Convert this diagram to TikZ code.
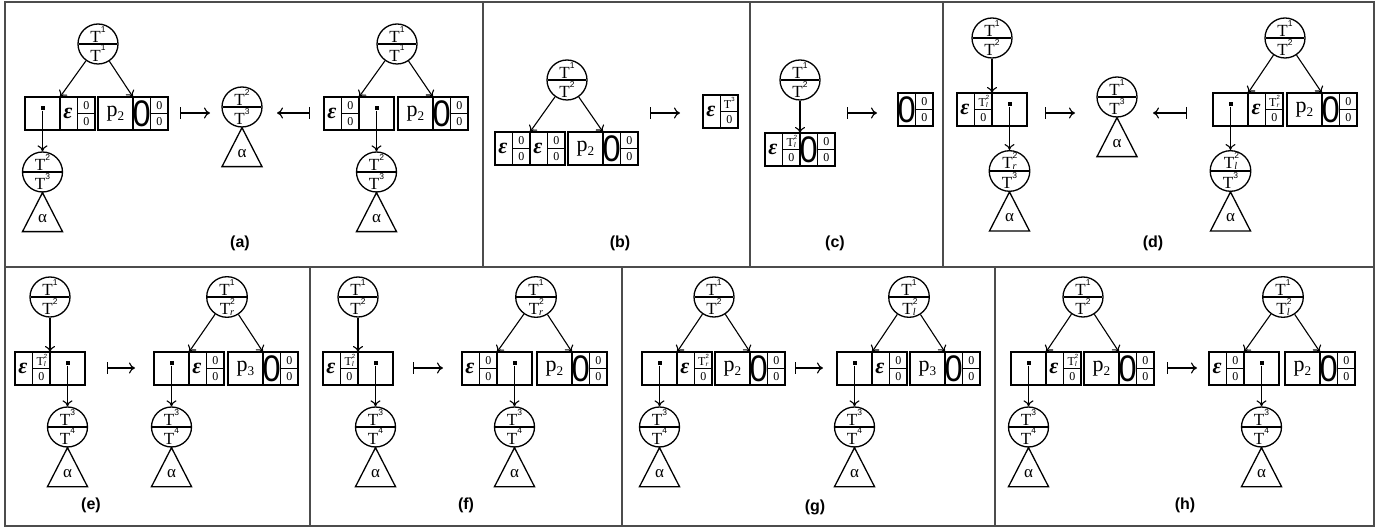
\documentclass[tikz,border=0pt]{standalone}
\usepackage{fontspec}
\setmainfont{Liberation Serif}
\setsansfont{Liberation Sans}
\usetikzlibrary{arrows.meta,shapes.multipart}

\tikzset{
  tn/.style={circle split,draw,line width=1.3pt,minimum size=40pt,inner sep=0.5pt,
    font=\fontsize{17}{17}\selectfont},
  cell/.style={draw,line width=1.4pt,minimum width=35pt,minimum height=33pt,
    inner sep=0pt,outer sep=0pt,anchor=north west},
  split/.style={line width=0.6pt},
  sym/.style={inner sep=0pt},
  frac/.style={inner sep=0pt,font=\fontsize{12}{12}\selectfont},
  ptr/.style={fill,rectangle,minimum size=4pt,inner sep=0pt},
  edge/.style={line width=1.1pt,-{To[length=6pt,width=10pt]}},
  mapsto/.style={line width=1.1pt,{Bar[width=12pt]}-{To[length=6pt,width=11pt]}},
  tri/.style={line width=1.3pt,line join=miter},
  greek/.style={inner sep=0pt,font=\fontsize{17}{17}\selectfont},
  lbl/.style={font=\sffamily\bfseries\fontsize{16}{16}\selectfont},
  frame/.style={line width=1.5pt,black!70}
}

% T with a level number, and T with a side (l/r) as well
\newcommand{\Tsup}[1]{T\raisebox{0.6em}{\scalebox{0.5}{\sffamily#1}}}
\newcommand{\Tsub}[2]{T\rlap{\raisebox{0.6em}{\scalebox{0.5}{\sffamily#2}}}\raisebox{-0.05em}{\scalebox{0.6}{\itshape#1}}}
\newcommand{\eps}{\makebox[15pt]{\fontsize{22}{22}\selectfont\bfseries\itshape ε\kern1.5pt}}
\newcommand{\bigzero}{\makebox[16pt]{\scalebox{0.88}[1]{\fontsize{37}{37}\selectfont\sffamily 0}}}

% tree node, subtree triangle, and the record cells
\newcommand{\tnode}[4]{\node[tn] (#1) at (#2) {#3\nodepart{lower}#4};}
\newcommand{\subtree}[1]{%
  \draw[tri] (#1.south) -- ++(-20,39) -- ++(40,0) -- cycle;
  \node[greek] (#1-a) at ([yshift=-26pt]#1.south) {α};}
\newcommand{\ptrcell}[2]{%
  \node[cell] (#1) at (#2) {};
  \node[ptr] (#1-d) at ([yshift=5pt]#1.center) {};}
\newcommand{\fraccell}[5]{%
  \node[cell] (#1) at (#2) {};
  \draw[split] (#1.north) -- (#1.south) (#1.center) -- (#1.east);
  \node[sym] (#1-s) at ([xshift=-8.75pt]#1.center) {#3};
  \node[frac] (#1-t) at ([xshift=8.75pt,yshift=8.25pt]#1.center) {#4};
  \node[frac] (#1-b) at ([xshift=8.75pt,yshift=-8.25pt]#1.center) {#5};}
\newcommand{\epscell}[4]{\fraccell{#1}{#2}{\eps}{#3}{#4}}
\newcommand{\zerocell}[2]{\fraccell{#1}{#2}{\bigzero}{0}{0}}
\newcommand{\pcell}[3]{\node[cell,font=\fontsize{22}{22}\selectfont] (#1) at (#2)
  {p\raisebox{-0.2em}{\scalebox{0.6}{#3}}};}

\begin{document}
\begin{tikzpicture}[x=1pt,y=-1pt]
  \useasboundingbox (0,0) rectangle (1390,529);

  % panels
  \draw[frame] (5,2) rectangle (1374,526);
  \draw[frame] (5,267) -- (1374,267);
  \foreach \x in {483,750,943}
    \draw[frame] (\x,2) -- (\x,267);
  \foreach \x in {310,622,995}
    \draw[frame] (\x,267) -- (\x,526);

  % (a)
  \tnode{a-r1}{98,44}{\Tsup{1}}{\Tsup{1}}
  \ptrcell{a-1}{25,97}
  \epscell{a-2}{60,97}{0}{0}
  \pcell{a-3}{98,97}{2}
  \zerocell{a-4}{133,97}
  \draw[edge] (a-r1) -- (a-1.north east);
  \draw[edge] (a-r1) -- (a-3.north east);
  \tnode{a-c1}{42.5,172}{\Tsup{2}}{\Tsup{3}}
  \draw[edge] (a-1-d) -- (a-c1);
  \subtree{a-c1}
  \coordinate (a-m1) at (180,113);
  \coordinate (a-m2) at (210,113);
  \draw[mapsto] (a-m1) -- (a-m2);
  \tnode{a-m}{242,107}{\Tsup{2}}{\Tsup{3}}
  \subtree{a-m}
  \coordinate (a-m3) at (310,113);
  \coordinate (a-m4) at (277,113);
  \draw[mapsto] (a-m3) -- (a-m4);
  \tnode{a-r2}{397,44}{\Tsup{1}}{\Tsup{1}}
  \epscell{a-5}{324,97}{0}{0}
  \ptrcell{a-6}{359,97}
  \pcell{a-7}{398,97}{2}
  \zerocell{a-8}{433,97}
  \draw[edge] (a-r2) -- (a-5.north east);
  \draw[edge] (a-r2) -- (a-7.north east);
  \tnode{a-c2}{376.5,172}{\Tsup{2}}{\Tsup{3}}
  \draw[edge] (a-6-d) -- (a-c2);
  \subtree{a-c2}
  \node[lbl] (la) at (240,243) {(a)};

  % (b)
  \tnode{b-r}{567,80}{\Tsup{1}}{\Tsup{2}}
  \epscell{b-1}{495,132}{0}{0}
  \epscell{b-2}{530,132}{0}{0}
  \pcell{b-3}{568,132}{2}
  \zerocell{b-4}{603,132}
  \draw[edge] (b-r) -- (b-1.north east);
  \draw[edge] (b-r) -- (b-3.north east);
  \coordinate (b-m1) at (650,113);
  \coordinate (b-m2) at (680,113);
  \draw[mapsto] (b-m1) -- (b-m2);
  \epscell{b-5}{703,95}{\Tsup{3}}{0}
  \node[lbl] (lb) at (620,243) {(b)};

  % (c)
  \tnode{c-r}{800,80}{\Tsup{1}}{\Tsup{2}}
  \epscell{c-1}{765,133}{\Tsub{l}{2}}{0}
  \zerocell{c-2}{800,133}
  \draw[edge] (c-r) -- (c-1.north east);
  \coordinate (c-m1) at (847,113);
  \coordinate (c-m2) at (877,113);
  \draw[mapsto] (c-m1) -- (c-m2);
  \zerocell{c-3}{898,93}
  \node[lbl] (lc) at (835,243) {(c)};

  % (d)
  \tnode{d-r1}{992,38}{\Tsup{1}}{\Tsup{2}}
  \epscell{d-1}{957,93}{\Tsub{l}{2}}{0}
  \ptrcell{d-2}{992,93}
  \draw[edge] (d-r1) -- (d-1.north east);
  \tnode{d-c1}{1009.5,171}{\Tsub{r}{2}}{\Tsup{3}}
  \draw[edge] (d-2-d) -- (d-c1);
  \subtree{d-c1}
  \coordinate (d-m1) at (1045,113);
  \coordinate (d-m2) at (1075,113);
  \draw[mapsto] (d-m1) -- (d-m2);
  \tnode{d-m}{1117,97}{\Tsup{1}}{\Tsup{3}}
  \subtree{d-m}
  \coordinate (d-m3) at (1187,113);
  \coordinate (d-m4) at (1153,113);
  \draw[mapsto] (d-m3) -- (d-m4);
  \tnode{d-r2}{1285,38}{\Tsup{1}}{\Tsup{2}}
  \ptrcell{d-3}{1213,93}
  \epscell{d-4}{1248,93}{\Tsub{r}{2}}{0}
  \pcell{d-5}{1287,93}{2}
  \zerocell{d-6}{1322,93}
  \draw[edge] (d-r2) -- (d-3.north east);
  \draw[edge] (d-r2) -- (d-5.north east);
  \tnode{d-c2}{1230.5,171}{\Tsub{l}{2}}{\Tsup{3}}
  \draw[edge] (d-3-d) -- (d-c2);
  \subtree{d-c2}
  \node[lbl] (ld) at (1153,243) {(d)};

  % (e)
  \tnode{e-r1}{50,297}{\Tsup{1}}{\Tsup{2}}
  \epscell{e-1}{15,352}{\Tsub{l}{2}}{0}
  \ptrcell{e-2}{50,352}
  \draw[edge] (e-r1) -- (e-1.north east);
  \tnode{e-c1}{67.5,427}{\Tsup{3}}{\Tsup{4}}
  \draw[edge] (e-2-d) -- (e-c1);
  \subtree{e-c1}
  \coordinate (e-m1) at (107,368);
  \coordinate (e-m2) at (135,368);
  \draw[mapsto] (e-m1) -- (e-m2);
  \tnode{e-r2}{227,297}{\Tsup{1}}{\Tsub{r}{2}}
  \ptrcell{e-3}{154,352}
  \epscell{e-4}{189,352}{0}{0}
  \pcell{e-5}{228,352}{3}
  \zerocell{e-6}{263,352}
  \draw[edge] (e-r2) -- (e-3.north east);
  \draw[edge] (e-r2) -- (e-5.north east);
  \tnode{e-c2}{171.5,427}{\Tsup{3}}{\Tsup{4}}
  \draw[edge] (e-3-d) -- (e-c2);
  \subtree{e-c2}
  \node[lbl] (le) at (91,505) {(e)};

  % (f)
  \tnode{f-r1}{358,297}{\Tsup{1}}{\Tsup{2}}
  \epscell{f-1}{323,352}{\Tsub{l}{2}}{0}
  \ptrcell{f-2}{358,352}
  \draw[edge] (f-r1) -- (f-1.north east);
  \tnode{f-c1}{375.5,427}{\Tsup{3}}{\Tsup{4}}
  \draw[edge] (f-2-d) -- (f-c1);
  \subtree{f-c1}
  \coordinate (f-m1) at (413,368);
  \coordinate (f-m2) at (443,368);
  \draw[mapsto] (f-m1) -- (f-m2);
  \tnode{f-r2}{536,297}{\Tsup{1}}{\Tsub{r}{2}}
  \epscell{f-3}{462,352}{0}{0}
  \ptrcell{f-4}{497,352}
  \pcell{f-5}{537,352}{2}
  \zerocell{f-6}{572,352}
  \draw[edge] (f-r2) -- (f-3.north east);
  \draw[edge] (f-r2) -- (f-5.north east);
  \tnode{f-c2}{514.5,427}{\Tsup{3}}{\Tsup{4}}
  \draw[edge] (f-4-d) -- (f-c2);
  \subtree{f-c2}
  \node[lbl] (lf) at (466,505) {(f)};

  % (g)
  \tnode{g-r1}{714,297}{\Tsup{1}}{\Tsup{2}}
  \ptrcell{g-1}{642,352}
  \epscell{g-2}{677,352}{\Tsub{r}{2}}{0}
  \pcell{g-3}{715,352}{2}
  \zerocell{g-4}{750,352}
  \draw[edge] (g-r1) -- (g-1.north east);
  \draw[edge] (g-r1) -- (g-3.north east);
  \tnode{g-c1}{659.5,427}{\Tsup{3}}{\Tsup{4}}
  \draw[edge] (g-1-d) -- (g-c1);
  \subtree{g-c1}
  \coordinate (g-m1) at (795,368);
  \coordinate (g-m2) at (823,368);
  \draw[mapsto] (g-m1) -- (g-m2);
  \tnode{g-r2}{909,297}{\Tsup{1}}{\Tsub{l}{2}}
  \ptrcell{g-5}{837,352}
  \epscell{g-6}{872,352}{0}{0}
  \pcell{g-7}{910,352}{3}
  \zerocell{g-8}{945,352}
  \draw[edge] (g-r2) -- (g-5.north east);
  \draw[edge] (g-r2) -- (g-7.north east);
  \tnode{g-c2}{854.5,427}{\Tsup{3}}{\Tsup{4}}
  \draw[edge] (g-5-d) -- (g-c2);
  \subtree{g-c2}
  \node[lbl] (lg) at (815,507) {(g)};

  % (h)
  \tnode{h-r1}{1083,297}{\Tsup{1}}{\Tsup{2}}
  \ptrcell{h-1}{1011,352}
  \epscell{h-2}{1046,352}{\Tsub{l}{2}}{0}
  \pcell{h-3}{1084,352}{2}
  \zerocell{h-4}{1119,352}
  \draw[edge] (h-r1) -- (h-1.north east);
  \draw[edge] (h-r1) -- (h-3.north east);
  \tnode{h-c1}{1028.5,427}{\Tsup{3}}{\Tsup{4}}
  \draw[edge] (h-1-d) -- (h-c1);
  \subtree{h-c1}
  \coordinate (h-m1) at (1167,368);
  \coordinate (h-m2) at (1197,368);
  \draw[mapsto] (h-m1) -- (h-m2);
  \tnode{h-r2}{1283,297}{\Tsup{1}}{\Tsub{l}{2}}
  \epscell{h-5}{1209,352}{0}{0}
  \ptrcell{h-6}{1244,352}
  \pcell{h-7}{1285,352}{2}
  \zerocell{h-8}{1320,352}
  \draw[edge] (h-r2) -- (h-5.north east);
  \draw[edge] (h-r2) -- (h-7.north east);
  \tnode{h-c2}{1261.5,427}{\Tsup{3}}{\Tsup{4}}
  \draw[edge] (h-6-d) -- (h-c2);
  \subtree{h-c2}
  \node[lbl] (lh) at (1185,505) {(h)};
\end{tikzpicture}
\end{document}
